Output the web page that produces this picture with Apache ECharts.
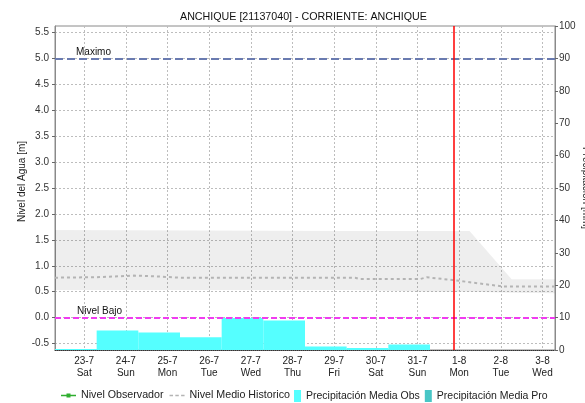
<!DOCTYPE html>
<html>
<head>
<meta charset="utf-8">
<script src="https://cdn.jsdelivr.net/npm/echarts@6/dist/echarts.min.js"></script>
<style>
html,body{margin:0;padding:0;background:#fff;}
#chart{width:585px;height:403px;}
</style>
</head>
<body>
<div id="chart"></div>
<script>
// ---------- data ----------
const titleText = 'ANCHIQUE [21137040] - CORRIENTE: ANCHIQUE';
const dayLabels = ['23-7','24-7','25-7','26-7','27-7','28-7','29-7','30-7','31-7','1-8','2-8','3-8'];
const weekDays  = ['Sat','Sun','Mon','Tue','Wed','Thu','Fri','Sat','Sun','Mon','Tue','Wed'];
const levelTicks = [-0.5,0,0.5,1,1.5,2,2.5,3,3.5,4,4.5,5,5.5];
// daily precipitation observed (mm), one per day starting 23-7
const precipObs = [0.3, 6.0, 5.4, 3.9, 9.85, 9.1, 1.1, 0.6, 1.7];
const precipPro = [];
const nivelObs = [];
// historic band (m), x in day units (0 = 23-7 label)
const bandX    = [-0.70, 6.50, 8.29, 9.25, 10.26, 11.30];
const bandLow  = [0.53, 0.53, 0.50, 0.50, 0.48, 0.47];
const bandHigh = [1.69, 1.67, 1.67, 1.67, 0.74, 0.74];
// historic mean level (m)
const histX    = [-0.70, 0.30, 1.19, 1.60, 2.30, 6.50, 6.62, 8.06, 8.22, 8.85, 10.05, 11.30];
const histMean = [0.77, 0.78, 0.81, 0.80, 0.77, 0.77, 0.744, 0.744, 0.777, 0.725, 0.60, 0.60];
const nivelMaximo = 5.0;
const nivelBajo = 0.0;
const nowDay = 8.88;

// ---------- layout ----------
const FONT = "'Liberation Sans', Arial, sans-serif";
const PL = 55, PR = 30, PT = 26, PH = 324;
const PW = 585 - PL - PR;
const LMIN = -0.625, LMAX = 5.625;
const XMIN = -0.7, XMAX = 11.3;
const BAR_SHIFT = 0.7;
const pxM = PH / (LMAX - LMIN);
const pxD = PW / (XMAX - XMIN);
const GRID_LINE = {color:'#bdbdbd', type:[2,2], width:1};

const chart = echarts.init(document.getElementById('chart'), null, {renderer:'canvas'});

function barRender(params, api) {
  const i = api.value(0), v = api.value(1);
  const p0 = api.coord([i - BAR_SHIFT, v]);
  const p1 = api.coord([i - BAR_SHIFT + 1, 0]);
  return {type:'rect', shape:{x:p0[0], y:p0[1], width:p1[0]-p0[0], height:p1[1]-p0[1]},
          style:{fill: api.visual('color')}};
}
function bandRender(params, api) {
  if (params.dataIndex !== 0) return {type:'group', children:[]};
  const pts = [];
  for (let i = 0; i < bandX.length; i++) pts.push(api.coord([bandX[i], bandHigh[i]]));
  for (let i = bandX.length - 1; i >= 0; i--) pts.push(api.coord([bandX[i], bandLow[i]]));
  return {type:'polygon', shape:{points:pts}, style:{fill:'rgba(0,0,0,0.065)'}};
}

const option = {
  animation:false,
  textStyle:{fontFamily:FONT},
  title:{text:titleText, left:175, top:7,
    textStyle:{fontSize:10.7, fontWeight:'normal', color:'#111', fontFamily:FONT}},
  legend:[
    {data:[
       {name:'Nivel Observador', icon:'path://M0,3.3h15v1.4h-15z M5.5,2h4v4h-4z'},
       {name:'Nivel Medio Historico', icon:'path://M0,3.3h3v1.4h-3z M5,3.3h3v1.4h-3z M10,3.3h3v1.4h-3z'}],
     left:56, top:385, itemWidth:15, itemHeight:8, itemGap:6,
     textStyle:{fontSize:10.7, color:'#222', fontFamily:FONT}},
    {data:[{name:'Precipitación Media Obs', icon:'rect'},{name:'Precipitación Media Pro', icon:'rect'}],
     left:289, top:385, itemWidth:7, itemHeight:12, itemGap:5,
     textStyle:{fontSize:10.5, color:'#222', fontFamily:FONT}}
  ],
  grid:[
    {left:PL, width:PW, top:PT, height:PH, show:true, borderColor:'#8a8a8a', borderWidth:1,
     backgroundColor:'transparent', containLabel:false, outerBoundsMode:'none'},
    {left:PL, width:PW, top:PT + (LMAX-5.5)*pxM, height:6*pxM, containLabel:false, outerBoundsMode:'none'},
    {left:PL + (0-XMIN)*pxD, width:11*pxD, top:PT, height:PH, containLabel:false, outerBoundsMode:'none'}
  ],
  xAxis:[
    {type:'value', gridIndex:0, min:XMIN, max:XMAX,
     axisLine:{show:true, onZero:false, lineStyle:{color:'#333', type:'dotted', width:1}},
     axisTick:{show:false}, axisLabel:{show:false}, splitLine:{show:false}},
    {type:'value', gridIndex:1, min:0, max:1, show:false},
    {type:'category', gridIndex:2, data:dayLabels, boundaryGap:false,
     axisLine:{show:false}, axisTick:{show:false},
     axisLabel:{margin:5, fontSize:10, lineHeight:12, color:'#222', fontFamily:FONT, interval:0,
       formatter:(v, idx) => v + '\n' + weekDays[idx]},
     splitLine:{show:true, interval:0, lineStyle:GRID_LINE}}
  ],
  yAxis:[
    {type:'value', gridIndex:0, min:LMIN, max:LMAX, position:'left',
     name:'Nivel del Agua [m]', nameLocation:'middle', nameGap:28,
     nameTextStyle:{fontSize:10, color:'#222', fontFamily:FONT, padding:[0,0,0,13]},
     axisLine:{show:true, onZero:false, lineStyle:{color:'#8a8a8a'}}, axisTick:{show:false},
     axisLabel:{show:false}, splitLine:{show:false}},
    {type:'value', gridIndex:0, min:0, max:100, interval:10, position:'right',
     name:'Precipitación [mm]', nameLocation:'middle', nameGap:26, nameRotate:-90,
     nameMoveOverlap:false,
     nameTextStyle:{fontSize:10, color:'#222', fontFamily:FONT},
     axisLine:{show:true, onZero:false, lineStyle:{color:'#8a8a8a'}},
     axisTick:{show:true, length:3, lineStyle:{color:'#666'}},
     axisLabel:{margin:4, fontSize:10, color:'#333', fontFamily:FONT},
     splitLine:{show:false}},
    {type:'value', gridIndex:1, min:-0.5, max:5.5, interval:0.5, position:'left',
     axisLine:{show:false},
     axisTick:{show:true, length:3, lineStyle:{color:'#666'}},
     axisLabel:{margin:6, fontSize:10, color:'#333', fontFamily:FONT,
       formatter:v => v.toFixed(1)},
     splitLine:{show:true, lineStyle:GRID_LINE}},
    {type:'value', gridIndex:2, min:0, max:1, show:false}
  ],
  series:[
    // carriers that give the tick/grid axes a scale
    {type:'line', xAxisIndex:1, yAxisIndex:2, silent:true, symbol:'none', lineStyle:{opacity:0},
     data:levelTicks.map(v=>[0, v]), z:0},
    {type:'line', xAxisIndex:2, yAxisIndex:3, silent:true, symbol:'none', lineStyle:{opacity:0},
     data:dayLabels.map(d=>[d, 0]), z:0},
    {name:'band', type:'custom', xAxisIndex:0, yAxisIndex:0, silent:true, z:1,
     renderItem:bandRender, encode:{x:0, y:[1,2]},
     data:bandX.map((x,i)=>[x, bandLow[i], bandHigh[i]])},
    {name:'Precipitación Media Obs', type:'custom', xAxisIndex:0, yAxisIndex:1,
     itemStyle:{color:'#55ffff'}, renderItem:barRender, encode:{x:0, y:1},
     data:precipObs.map((v,i)=>[i, v]), z:2},
    {name:'Precipitación Media Pro', type:'custom', xAxisIndex:0, yAxisIndex:1,
     itemStyle:{color:'#48c6c6'}, renderItem:barRender, encode:{x:0, y:1},
     data:precipPro.map((v,i)=>[i, v]), z:2},
    {name:'Nivel Observador', type:'line', xAxisIndex:0, yAxisIndex:0,
     symbol:'rect', symbolSize:4, showSymbol:true,
     itemStyle:{color:'#2fae2f'}, lineStyle:{color:'#2fae2f', width:1.5},
     data:nivelObs, z:4},
    {name:'Nivel Medio Historico', type:'line', xAxisIndex:0, yAxisIndex:0, symbol:'none',
     itemStyle:{color:'#b4b4b4'}, lineStyle:{color:'#b4b4b4', width:2, type:[3,3]},
     data:histX.map((x,i)=>[x, histMean[i]]), z:3,
     markLine:{silent:true, symbol:['none','none'], animation:false,
       data:[
         {yAxis:nivelMaximo, lineStyle:{color:'#6a7bb0', width:2, type:[8,4]},
          label:{show:true, formatter:'Maximo', position:'insideStartTop', distance:1,
                 padding:[0,0,0,20], fontSize:10, color:'#111', fontFamily:FONT}},
         {yAxis:nivelBajo, lineStyle:{color:'#f03cf0', width:2, type:[6,3]},
          label:{show:true, formatter:'Nivel Bajo', position:'insideStartTop', distance:1,
                 padding:[0,0,0,21], fontSize:10, color:'#111', fontFamily:FONT}},
         {xAxis:nowDay, lineStyle:{color:'#ff0000', width:1.5, type:'solid'}, label:{show:false}}
       ]}}
  ]
};
chart.setOption(option);
</script>
</body>
</html>
